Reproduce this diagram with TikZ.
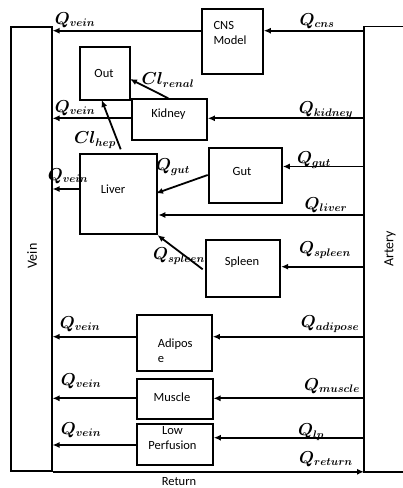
\documentclass[tikz,border=0pt]{standalone}
\usepackage{fontspec}
\setmainfont{Carlito}
\usetikzlibrary{arrows.meta}
\begin{document}
\begin{tikzpicture}[x=1pt,y=-1pt,line width=1.8pt,
  box/.style n args={2}{draw,line width=1.8pt,inner sep=0pt,anchor=north west,minimum width=#1,minimum height=#2},
  flow/.style={-{Latex[length=7pt,width=6pt]},line width=1.8pt},
  btxt/.style={font=\fontsize{12.5}{15}\selectfont,inner sep=0pt,align=center},
  lbl/.style={font=\fontsize{16}{18}\selectfont\boldmath,inner sep=0pt}]
\useasboundingbox (0,0) rectangle (403,488);
% main vessels
\node[box={40.7pt}{444pt}] (vein) at (10,26) {};
\node[inner sep=0pt,anchor=north west,minimum width=37.5pt,minimum height=443.5pt] (artery) at (364,26.5) {};
\draw (artery.north east) -- (artery.north west) -- (artery.south west) -- (artery.south east);
\draw[gray!35,line width=0.6pt] (artery.north east) -- (artery.south east);
\node[font=\fontsize{14}{16}\selectfont,rotate=90,inner sep=0pt] (veinT) at (32,256) {Vein};
\node[font=\fontsize{14}{16}\selectfont,rotate=90,inner sep=0pt] (arteryT) at (390,249) {Artery};
% organ boxes
\node[box={61pt}{64.4pt}] (cns) at (201,8.3) {};
\node[box={50pt}{53pt}] (out) at (79,46) {};
\node[box={75.3pt}{40.7pt}] (kidney) at (130.7,98.3) {};
\node[box={76.4pt}{80pt}] (liver) at (79.3,153.3) {};
\node[box={73.3pt}{55.6pt}] (gut) at (207.7,146.7) {};
\node[box={74.3pt}{56.7pt}] (spleen) at (205,239) {};
\node[box={75.3pt}{55.7pt}] (adipose) at (135.7,314.3) {};
\node[box={75.4pt}{40.6pt}] (muscle) at (136.3,377.7) {};
\node[box={75.7pt}{40.7pt}] (lp) at (136.3,423.3) {};
% box texts
\node[btxt,align=left] (cnsT) at (230,33) {CNS\\Model};
\node[btxt] (outT) at (104,73) {Out};
\node[btxt] (kidneyT) at (168.5,114) {Kidney};
\node[btxt] (liverT) at (113,189) {Liver};
\node[btxt] (gutT) at (242,171) {Gut};
\node[btxt] (spleenT) at (242,262) {Spleen};
\node[btxt,align=left,anchor=west] (adiposeT) at (157,351) {Adipos\\e};
\node[btxt] (muscleT) at (172,397) {Muscle};
\node[btxt] (lpT) at (172.5,438) {Low\\Perfusion};
% flows
\draw[flow] (artery.west |- 0,30.7) -- (cns.east |- 0,30.7);
\draw[flow] (cns.west |- 0,30.7) -- (vein.east |- 0,30.7);
\draw[flow] (artery.west |- 0,118.3) -- (kidney.east |- 0,118.3);
\draw[flow] (kidney.west |- 0,118.3) -- (vein.east |- 0,118.3);
\coordinate (kTop) at (168.3,98.3);
\coordinate (outR) at (130,79);
\draw[flow] (kTop) -- (outR);
\coordinate (lTop) at (120.7,149.3);
\coordinate (outB) at (101.7,100);
\draw[flow] (lTop) -- (outB);
\draw[flow] (artery.west |- 0,166.5) -- (gut.east |- 0,166.5);
\coordinate (gutL) at (207.7,175);
\coordinate (livR) at (156,193.3);
\draw[flow] (gutL) -- (livR);
\draw[flow] (artery.west |- 0,215) -- (158.3,215);
\draw[flow] (liver.west |- 0,189) -- (vein.east |- 0,189);
\draw[flow] (artery.west |- 0,266.7) -- (spleen.east |- 0,266.7);
\coordinate (splL) at (202.7,269.3);
\draw[flow] (splL) -- (liver.south east);
\draw[flow] (artery.west |- 0,336.7) -- (adipose.east |- 0,336.7);
\draw[flow] (adipose.west |- 0,336.7) -- (vein.east |- 0,336.7);
\draw[flow] (artery.west |- 0,398.3) -- (muscle.east |- 0,398.3);
\draw[flow] (muscle.west |- 0,398.3) -- (vein.east |- 0,398.3);
\draw[flow] (artery.west |- 0,437.7) -- (lp.east |- 0,437.7);
\draw[flow] (lp.west |- 0,445) -- (vein.east |- 0,445);
\draw[flow] (vein.south east) -- (artery.south west);
% labels
\node[lbl] (l1) at (75,20) {$Q_{vein}$};
\node[lbl] (l2) at (317,21) {$Q_{cns}$};
\node[lbl] (l3) at (168,80) {$Cl_{renal}$};
\node[lbl] (l4) at (75,108) {$Q_{vein}$};
\node[lbl] (l5) at (326,110) {$Q_{kidney}$};
\node[lbl] (l6) at (95,140) {$Cl_{hep}$};
\node[lbl] (l7) at (314,160) {$Q_{gut}$};
\node[lbl] (l8) at (173,167) {$Q_{gut}$};
\node[lbl] (l9) at (68,176) {$Q_{vein}$};
\node[lbl] (l10) at (326,205) {$Q_{liver}$};
\node[lbl] (l11) at (325,250) {$Q_{spleen}$};
\node[lbl] (l12) at (179,256) {$Q_{spleen}$};
\node[lbl] (l13) at (80,324) {$Q_{vein}$};
\node[lbl] (l14) at (330,324) {$Q_{adipose}$};
\node[lbl] (l15) at (81,381) {$Q_{vein}$};
\node[lbl] (l16) at (332,386) {$Q_{muscle}$};
\node[lbl] (l17) at (81,430) {$Q_{vein}$};
\node[lbl] (l18) at (311,432) {$Q_{lp}$};
\node[lbl] (l19) at (326,459) {$Q_{return}$};
\node[btxt] (retT) at (179,482) {Return};
\end{tikzpicture}
\end{document}
